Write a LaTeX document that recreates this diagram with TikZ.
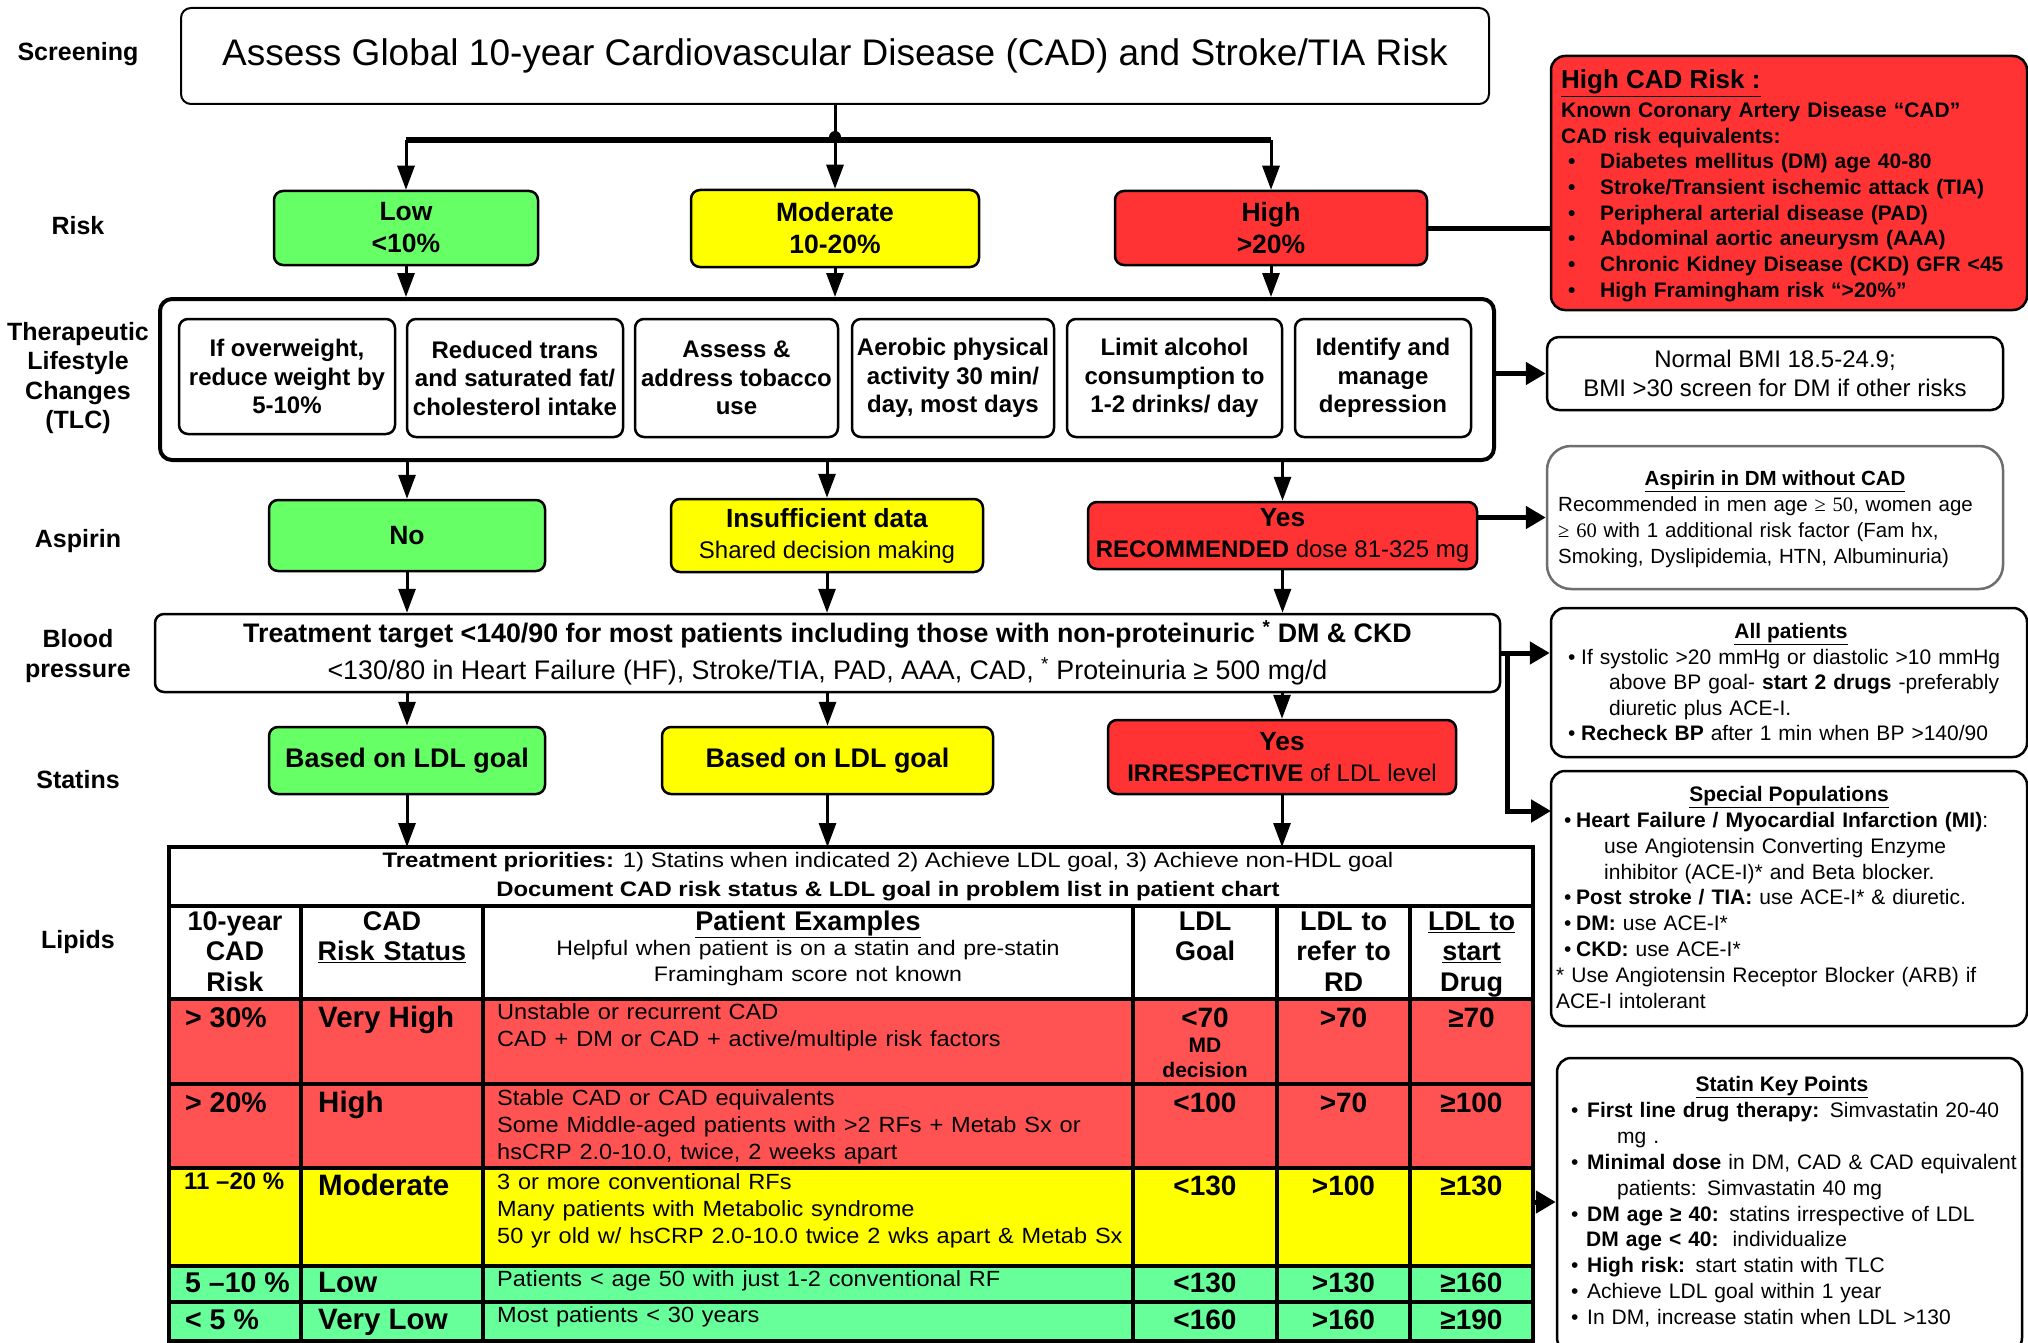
\documentclass[tikz,border=0pt]{standalone}
\usepackage{fontspec}
\setmainfont{Liberation Sans}
\newfontfamily\serifnum{Liberation Serif}
\usetikzlibrary{arrows.meta}
\definecolor{gbox}{RGB}{102,255,102}
\definecolor{ybox}{RGB}{255,255,0}
\definecolor{rbox}{RGB}{255,51,51}
\definecolor{rtab}{RGB}{255,82,82}
\definecolor{gtab}{RGB}{102,255,153}
\definecolor{gborder}{RGB}{110,110,110}
\newcommand{\fsz}[2]{\fontsize{#1}{#2}\selectfont}
\newcommand{\hb}{\hspace*{7pt}\makebox[32pt][l]{\textbullet}}
\newcommand{\ab}{\makebox[13pt][l]{\textbullet}}
\newcommand{\sbul}{\hspace*{8pt}\makebox[12pt][l]{\textbullet}}
\newcommand{\kb}{\makebox[16pt][l]{\textbullet}}
\newcommand{\sxa}[1]{\scalebox{1.14}[1]{#1}}
\newcommand{\sxb}[1]{\scalebox{1.1}[1]{#1}}
\newcommand{\sxc}[1]{\scalebox{1.07}[1]{#1}}
\begin{document}
\begin{tikzpicture}[x=1pt,y=-1pt,
 box/.style={draw, line width=2.5pt, rounded corners=9pt, inner sep=0pt, align=center},
 arr/.style={line width=3pt, -{Triangle[length=24pt,width=17pt]}},
 barr/.style={line width=5pt, -{Triangle[length=20pt,width=22pt]}},
 lbl/.style={inner sep=0pt, font=\fsz{25}{29.3}\bfseries, align=center},
 txt/.style={inner sep=0pt},
 rbtxt/.style={inner sep=0pt, font=\fsz{24}{28.5}\bfseries},
 c1/.style={inner sep=0pt, anchor=base west, font=\fsz{28.5}{30}\bfseries},
 c2/.style={inner sep=0pt, anchor=base west, font=\fsz{29.5}{30}\bfseries},
 c3/.style={inner sep=0pt, anchor=base west, text width=640pt, align=left, font=\fsz{22}{27}},
 val/.style={inner sep=0pt, anchor=base, font=\fsz{28}{30}\bfseries},
 hdr/.style={inner sep=0pt, anchor=base, align=center, font=\fsz{27}{30.5}\bfseries}]
\path[use as bounding box, fill=white] (0,0) rectangle (2028,1343);

% ---------- left labels
\node[lbl] (lscr) at (78,54) {Screening};
\node[lbl] (lrisk) at (78,226) {Risk};
\node[lbl] (ltlc) at (78,378) {Therapeutic\\Lifestyle\\Changes\\(TLC)};
\node[lbl] (lasp) at (78,541) {Aspirin};
\node[lbl] (lbp) at (78,656) {Blood\\pressure};
\node[lbl] (lstat) at (78,780) {Statins};
\node[lbl] (llip) at (78,942) {Lipids};

% ---------- screening
\node[box, line width=2pt, rounded corners=10pt, minimum width=1308pt, minimum height=96pt, font=\fsz{37}{44}] (title) at (835,56)
 {Assess Global 10-year Cardiovascular Disease (CAD) and Stroke/TIA Risk};

% ---------- risk
\node[box, fill=gbox, minimum width=264pt, minimum height=74pt, font=\fsz{26.5}{32}\bfseries] (low) at (406,228) {Low\\<10\%};
\node[box, fill=ybox, minimum width=288pt, minimum height=77pt, font=\fsz{26.5}{32}\bfseries] (mod) at (835,228.5) {Moderate\\10-20\%};
\node[box, fill=rbox, minimum width=312pt, minimum height=74pt, font=\fsz{26.5}{32}\bfseries] (high) at (1271,228) {High\\>20\%};

\coordinate (j) at (835,140);
\coordinate (jl) at (406,140);
\coordinate (jr) at (1271,140);
\draw[line width=3pt] (title.south) -- (j);
\draw[line width=6pt] (jl) -- (jr);
\fill (835,137) circle[radius=6pt];
\draw[arr] (jl) -- (low);
\draw[arr] (j) -- (mod);
\draw[arr] (jr) -- (high);

% ---------- high CAD risk box
\node[box, fill=rbox, rounded corners=14pt, minimum width=476pt, minimum height=254pt] (hcad) at (1789,183) {};
\node[txt, anchor=base west, font=\fsz{26}{30}\bfseries] (hcadt) at (1561,89) {\underline{High CAD Risk :}};
\node[txt, anchor=base west, text width=465pt, align=left, font=\fsz{21}{25.7}\bfseries] (hcadb) at (1561,117.5)
 {Known Coronary Artery Disease “CAD”\\
  CAD risk equivalents:\\
  \hb Diabetes mellitus (DM) age 40-80\\
  \hb Stroke/Transient ischemic attack (TIA)\\
  \hb Peripheral arterial disease (PAD)\\
  \hb Abdominal aortic aneurysm (AAA)\\
  \hb Chronic Kidney Disease (CKD) GFR <45\\
  \hb High Framingham risk “>20\%”};
\draw[line width=5pt] (high) -- (high -| hcad.west);

% ---------- TLC
\node[box, line width=4pt, rounded corners=12pt, minimum width=1334pt, minimum height=161pt] (tlc) at (827,379.5) {};
\node[box, rbtxt, minimum width=216pt, minimum height=115pt] (t1) at (287,376.5) {If overweight,\\reduce weight by\\5-10\%};
\node[box, rbtxt, minimum width=216pt, minimum height=118pt] (t2) at (515,378) {Reduced trans\\and saturated fat/\\cholesterol intake};
\node[box, rbtxt, minimum width=203pt, minimum height=118pt] (t3) at (736.5,378) {Assess \&\\address tobacco\\use};
\node[box, rbtxt, minimum width=202pt, minimum height=118pt] (t4) at (953,378) {Aerobic physical\\activity 30 min/\\day, most days};
\node[box, rbtxt, minimum width=215pt, minimum height=118pt] (t5) at (1174.5,378) {Limit alcohol\\consumption to\\1-2 drinks/ day};
\node[box, rbtxt, minimum width=176pt, minimum height=118pt] (t6) at (1383,378) {Identify and\\manage\\depression};
\draw[arr] (low) -- (low |- tlc.north);
\draw[arr] (mod) -- (mod |- tlc.north);
\draw[arr] (high) -- (high |- tlc.north);

\node[box, rounded corners=12pt, minimum width=456pt, minimum height=73pt, font=\fsz{24}{29}] (bmi) at (1775,373.5)
 {Normal BMI 18.5-24.9;\\BMI >30 screen for DM if other risks};
\draw[barr] (tlc.east |- bmi) -- (bmi);

% ---------- aspirin
\node[box, fill=gbox, minimum width=276pt, minimum height=71pt, font=\fsz{26.5}{31}\bfseries] (no) at (407,535.5) {No};
\node[box, fill=ybox, minimum width=312pt, minimum height=73pt, font=\fsz{26.3}{31}] (insuf) at (827,535.5)
 {\textbf{Insufficient data}\\{\fsz{24}{31}Shared decision making}};
\node[box, fill=rbox, minimum width=389pt, minimum height=67pt, font=\fsz{26.3}{31}] (yes) at (1282.5,535.5)
 {\textbf{Yes}\\{\fsz{24}{31}\textbf{RECOMMENDED} dose 81-325 mg}};
\draw[arr] (tlc.south -| no) -- (no);
\draw[arr] (tlc.south -| insuf) -- (insuf);
\draw[arr] (tlc.south -| yes) -- (yes);

\node[box, draw=gborder, rounded corners=24pt, minimum width=456pt, minimum height=143pt] (asp) at (1775,517.5) {};
\node[txt, anchor=base, font=\fsz{20.5}{25}\bfseries] (aspt) at (1775,485.5) {\underline{Aspirin in DM without CAD}};
\node[txt, anchor=base west, text width=445pt, align=left, font=\fsz{20.5}{26}] (aspb) at (1558,511.5)
 {Recommended in men age {\serifnum ≥ 50}, women age\\
  {\serifnum ≥ 60} with 1 additional risk factor (Fam hx,\\
  Smoking, Dyslipidemia, HTN, Albuminuria)};
\draw[barr] (asp.west -| yes.east) -- (asp.west);

% ---------- blood pressure
\node[box, minimum width=1345pt, minimum height=78pt, font=\fsz{26.8}{37}] (bp) at (827.5,653)
 {\textbf{Treatment target <140/90 for most patients including those with non-proteinuric \textsuperscript{*} DM \& CKD}\\
  <130/80 in Heart Failure (HF), Stroke/TIA, PAD, AAA, CAD, \textsuperscript{*} Proteinuria ≥ 500 mg/d};
\draw[arr] (no) -- (no |- bp.north);
\draw[arr] (insuf) -- (insuf |- bp.north);
\draw[arr] (yes) -- (yes |- bp.north);

\node[box, rounded corners=14pt, minimum width=476pt, minimum height=149pt] (allp) at (1789,682.5) {};
\node[txt, anchor=base, font=\fsz{21}{25}\bfseries] (allpt) at (1791,638) {\underline{All patients}};
\node[txt, anchor=base west, text width=455pt, align=left, font=\fsz{21}{25.3}] (allpb) at (1568,664.5)
 {\ab If systolic >20 mmHg or diastolic >10 mmHg\\
  \hspace*{41pt}above BP goal- \textbf{start 2 drugs} -preferably\\
  \hspace*{41pt}diuretic plus ACE-I.\\
  \ab \textbf{Recheck BP} after 1 min when BP >140/90};

\node[box, rounded corners=14pt, minimum width=476pt, minimum height=255pt] (spec) at (1789,898.5) {};
\node[txt, anchor=base, font=\fsz{21}{25}\bfseries] (spect) at (1789,801) {\underline{Special Populations}};
\node[txt, anchor=base west, text width=465pt, align=left, font=\fsz{21}{25.86}] (specb) at (1556,827.4)
 {\sbul \textbf{Heart Failure / Myocardial Infarction (MI)}:\\
  \hspace*{48pt}use Angiotensin Converting Enzyme\\
  \hspace*{48pt}inhibitor (ACE-I)* and Beta blocker.\\
  \sbul \textbf{Post stroke / TIA:} use ACE-I* \& diuretic.\\
  \sbul \textbf{DM:} use ACE-I*\\
  \sbul \textbf{CKD:} use ACE-I*\\
  {*} Use Angiotensin Receptor Blocker (ARB) if\\
  ACE-I intolerant};

\coordinate (bpj) at (1507,653);
\coordinate (spin) at (1551,811);
\draw[line width=5pt] (bp.east) -- (bpj);
\draw[barr] (bpj) -- (bpj -| allp.west);
\draw[barr] (bpj) |- (spin);

% ---------- statins
\node[box, fill=gbox, minimum width=276pt, minimum height=67pt, font=\fsz{26.9}{31}\bfseries] (sg) at (407,760.5) {Based on LDL goal};
\node[box, fill=ybox, minimum width=331pt, minimum height=67pt, font=\fsz{26.9}{31}\bfseries] (sy) at (827.5,760.5) {Based on LDL goal};
\node[box, fill=rbox, minimum width=348pt, minimum height=74pt, font=\fsz{26.3}{31}] (sr) at (1282,757)
 {\textbf{Yes}\\{\fsz{24}{31}\textbf{IRRESPECTIVE} of LDL level}};
\draw[arr] (bp.south -| sg) -- (sg);
\draw[arr] (bp.south -| sy) -- (sy);
\draw[arr] (bp.south -| sr) -- (sr);

% ---------- lipids table
\coordinate (tabtop) at (827,847);
\fill[rtab] (169,999) rectangle (1533,1168);
\fill[ybox] (169,1168) rectangle (1533,1266);
\fill[gtab] (169,1266) rectangle (1533,1341);
\foreach \yy in {906,999,1084,1168,1266,1302} {\draw[line width=3.5pt] (169,\yy) -- (1533,\yy);}
\foreach \xx in {301,483,1133,1277,1410} {\draw[line width=3.5pt] (\xx,906) -- (\xx,1341);}
\draw[line width=4pt] (169,847) rectangle (1533,1341);
\draw[arr] (sg) -- (sg |- tabtop);
\draw[arr] (sy) -- (sy |- tabtop);
\draw[arr] (sr) -- (sr |- tabtop);

\node[txt, anchor=base, font=\fsz{21}{25}] (tp1) at (888,867.4)
 {\sxa{\textbf{Treatment priorities:} 1) Statins when indicated 2) Achieve LDL goal, 3) Achieve non-HDL goal}};
\node[txt, anchor=base, font=\fsz{21}{25}\bfseries] (tp2) at (888,896.4)
 {\sxa{Document CAD risk status \& LDL goal in problem list in patient chart}};

\node[hdr, text width=130pt] (h1) at (235,930.4) {10-year\\CAD\\Risk};
\node[hdr, text width=180pt] (h2) at (392,930.4) {CAD\\\underline{Risk Status}};
\node[hdr, text width=640pt] (h3) at (808,930.4) {\underline{Patient Examples}};
\node[txt, anchor=base, text width=640pt, align=center, font=\fsz{21}{26}] (h3b) at (808,955.6)
 {\sxb{Helpful when patient is on a statin and pre-statin}\\\sxb{Framingham score not known}};
\node[hdr, text width=140pt] (h4) at (1205,930.4) {LDL\\Goal};
\node[hdr, text width=130pt] (h5) at (1343.5,930.4) {LDL to\\refer to\\RD};
\node[hdr, text width=120pt] (h6) at (1471.5,930.4) {\underline{LDL to}\\\underline{start}\\\underline{Drug}};

% very high
\node[c1] (r1a) at (185,1027) {> 30\%};
\node[c2] (r1b) at (318,1027) {Very High};
\node[c3] (r1c) at (497,1019) {\sxc{Unstable or recurrent CAD}\\\sxc{CAD + DM or CAD + active/multiple risk factors}};
\node[val] (r1d) at (1205,1027) {<70};
\node[txt, anchor=base, font=\fsz{21}{25}\bfseries] (r1md) at (1205,1052) {MD};
\node[txt, anchor=base, font=\fsz{21}{25}\bfseries] (r1dec) at (1205,1077) {decision};
\node[val] (r1e) at (1343.5,1027) {>70};
\node[val] (r1f) at (1471.5,1027) {≥70};
% high
\node[c1] (r2a) at (185,1112) {> 20\%};
\node[c2] (r2b) at (318,1112) {High};
\node[c3] (r2c) at (497,1105) {\sxc{Stable CAD or CAD equivalents}\\\sxc{Some Middle-aged patients with >2 RFs + Metab Sx or}\\\sxc{hsCRP 2.0-10.0, twice, 2 weeks apart}};
\node[val] (r2d) at (1205,1112) {<100};
\node[val] (r2e) at (1343.5,1112) {>70};
\node[val] (r2f) at (1471.5,1112) {≥100};
% moderate
\node[c1, font=\fsz{24}{26}\bfseries] (r3a) at (184,1189) {11 –20 \%};
\node[c2] (r3b) at (318,1195) {Moderate};
\node[c3] (r3c) at (497,1189) {\sxc{3 or more conventional RFs}\\\sxc{Many patients with Metabolic syndrome}\\\sxc{50 yr old w/ hsCRP 2.0-10.0 twice 2 wks apart \& Metab Sx}};
\node[val] (r3d) at (1205,1195) {<130};
\node[val] (r3e) at (1343.5,1195) {>100};
\node[val] (r3f) at (1471.5,1195) {≥130};
% low
\node[c1] (r4a) at (185,1292) {5 –10 \%};
\node[c2] (r4b) at (318,1292) {Low};
\node[c3] (r4c) at (497,1286) {\sxc{Patients < age 50 with just 1-2 conventional RF}};
\node[val] (r4d) at (1205,1292) {<130};
\node[val] (r4e) at (1343.5,1292) {>130};
\node[val] (r4f) at (1471.5,1292) {≥160};
% very low
\node[c1] (r5a) at (185,1329) {< 5 \%};
\node[c2] (r5b) at (318,1329) {Very Low};
\node[c3] (r5c) at (497,1322) {\sxc{Most patients < 30 years}};
\node[val] (r5d) at (1205,1329) {<160};
\node[val] (r5e) at (1343.5,1329) {>160};
\node[val] (r5f) at (1471.5,1329) {≥190};

% ---------- statin key points
\node[box, rounded corners=14pt, minimum width=465pt, minimum height=294pt] (stat) at (1789.5,1205) {};
\node[txt, anchor=base, font=\fsz{21}{25}\bfseries] (statt) at (1782,1091) {\underline{Statin Key Points}};
\node[txt, anchor=base west, text width=470pt, align=left, font=\fsz{21}{25.9}] (statb) at (1571,1117.4)
 {\kb \textbf{First line drug therapy:} Simvastatin 20-40\\
  \hspace*{46pt}mg .\\
  \kb \textbf{Minimal dose} in DM, CAD \& CAD equivalent\\
  \hspace*{46pt}patients: Simvastatin 40 mg\\
  \kb \textbf{DM age ≥ 40:} statins irrespective of LDL\\
  \hspace*{15pt}\textbf{DM age < 40:}\ \ individualize\\
  \kb \textbf{High risk:} start statin with TLC\\
  \kb Achieve LDL goal within 1 year\\
  \kb In DM, increase statin when LDL >130};
\coordinate (tabr) at (1533,1202);
\draw[barr] (tabr) -- (tabr -| stat.west);
\end{tikzpicture}
\end{document}
